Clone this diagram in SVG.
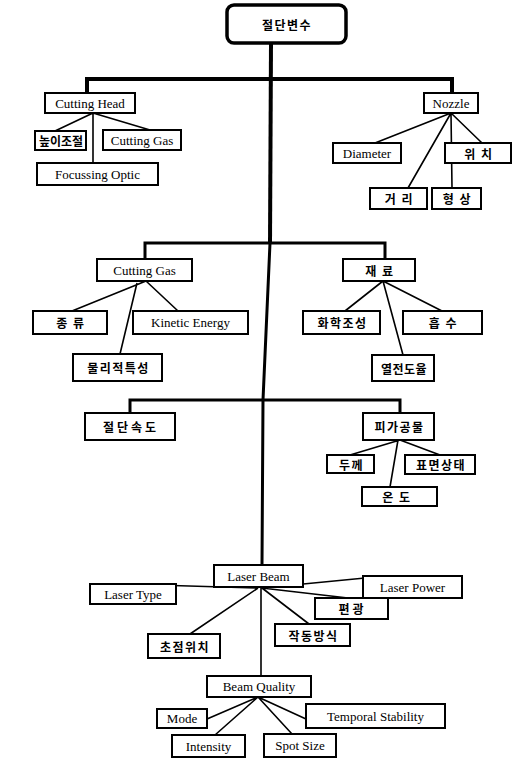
<svg xmlns="http://www.w3.org/2000/svg" width="514" height="763" viewBox="0 0 514 763">
<style>
.bx{fill:#fff;stroke:#000;stroke-width:2}
.e{font-family:"Liberation Serif",serif;font-size:13px;text-anchor:middle;dominant-baseline:central;fill:#000}
.k{font-family:"Noto Sans CJK KR",sans-serif;font-weight:bold;font-size:12px;text-anchor:middle;dominant-baseline:central;fill:#000;letter-spacing:1.5px}
.c{fill:none;stroke:#000;stroke-width:1.6}
.th{fill:none;stroke:#000;stroke-width:4}
.md{fill:none;stroke:#000;stroke-width:3}
</style>
<rect width="514" height="763" fill="#fff"/>
<g id="connectors">
<path class="th" d="M271,43 L270,243"/>
<path class="md" d="M270,243 L263,400 L262,565"/>
<path class="th" d="M87,95 L87,79 L452,79 L452,95"/>
<path class="md" d="M145,260 L145,243 L385,243 L385,260"/>
<path class="md" d="M130,414 L130,400 L400,400 L400,414"/>
<path class="c" d="M93,113 L55,131 M93,113 L150,130 M93,113 L93,163"/>
<path class="c" d="M451,113 L375,143 M451,113 L482,143 M451,113 L408,188 M451,113 L452,188"/>
<path class="c" d="M146,281 L72,311 M146,281 L178,311 M137,283 L120,354"/>
<path class="c" d="M383,281 L345,311 M383,281 L442,311 M383,281 L403,355"/>
<path class="c" d="M400,440 L350,455 M400,440 L440,455 M398,440 L390,487"/>
<path class="c" d="M258,588 L122,584 M258,588 L190,634 M262,588 L309,624 M262,588 L348,598 M262,588 L365,578 M261,588 L261,676"/>
<path class="c" d="M258,697 L207,719 M258,697 L215,735 M258,697 L292,734 M258,697 L306,719"/>
</g>
<g id="root"><rect x="227" y="5" width="119" height="38" rx="7" fill="#fff" stroke="#000" stroke-width="3.5"/><text class="k" x="287" y="24">절단변수</text></g>
<g id="cutting-head"><rect class="bx" x="45" y="93" width="90" height="20"/><text class="e" x="90" y="103">Cutting Head</text></g>
<g id="height"><rect class="bx" x="35" y="131" width="51" height="19"/><text class="k" x="61" y="140.5" style="letter-spacing:0">높이조절</text></g>
<g id="cutting-gas-1"><rect class="bx" x="103" y="130" width="78" height="20"/><text class="e" x="142" y="140">Cutting Gas</text></g>
<g id="focussing"><rect class="bx" x="37" y="163" width="121" height="22"/><text class="e" x="97.5" y="174">Focussing Optic</text></g>
<g id="nozzle"><rect class="bx" x="424" y="93" width="54" height="20"/><text class="e" x="451" y="103">Nozzle</text></g>
<g id="diameter"><rect class="bx" x="333" y="143" width="68" height="20"/><text class="e" x="367" y="153">Diameter</text></g>
<g id="position"><rect class="bx" x="445" y="143" width="66" height="20"/><text class="k" x="479" y="153">위 치</text></g>
<g id="distance"><rect class="bx" x="370" y="188" width="57" height="21"/><text class="k" x="399.5" y="198.5">거 리</text></g>
<g id="shape"><rect class="bx" x="432" y="188" width="49" height="21"/><text class="k" x="457.5" y="198.5">형 상</text></g>
<g id="cutting-gas-2"><rect class="bx" x="97" y="259" width="95" height="22"/><text class="e" x="144.5" y="270">Cutting Gas</text></g>
<g id="kind"><rect class="bx" x="33" y="311" width="74" height="23"/><text class="k" x="71" y="322.5">종 류</text></g>
<g id="kinetic"><rect class="bx" x="133" y="311" width="115" height="23"/><text class="e" x="190.5" y="322.5">Kinetic Energy</text></g>
<g id="physical"><rect class="bx" x="73" y="354" width="89" height="27"/><text class="k" x="118.5" y="367.5">물리적특성</text></g>
<g id="material"><rect class="bx" x="343" y="259" width="72" height="22"/><text class="k" x="380" y="270">재 료</text></g>
<g id="chemical"><rect class="bx" x="303" y="311" width="77" height="23"/><text class="k" x="342.5" y="322.5">화학조성</text></g>
<g id="absorb"><rect class="bx" x="403" y="311" width="79" height="23"/><text class="k" x="443.5" y="322.5">흡 수</text></g>
<g id="thermal"><rect class="bx" x="372" y="355" width="62" height="26"/><text class="k" x="404" y="368" style="letter-spacing:0.5px">열전도율</text></g>
<g id="speed"><rect class="bx" x="85" y="413" width="90" height="27"/><text class="k" x="131" y="426.5" style="letter-spacing:3px">절단속도</text></g>
<g id="workpiece"><rect class="bx" x="363" y="413" width="71" height="27"/><text class="k" x="399.5" y="426.5">피가공물</text></g>
<g id="thickness"><rect class="bx" x="327" y="455" width="47" height="18"/><text class="k" x="351.5" y="464">두께</text></g>
<g id="surface"><rect class="bx" x="405" y="455" width="70" height="19"/><text class="k" x="441" y="464.5">표면상태</text></g>
<g id="temperature"><rect class="bx" x="362" y="487" width="75" height="19"/><text class="k" x="397" y="496.5">온 도</text></g>
<g id="laser-beam"><rect class="bx" x="214" y="565" width="89" height="22"/><text class="e" x="258.5" y="576">Laser Beam</text></g>
<g id="laser-type"><rect class="bx" x="90" y="584" width="86" height="20"/><text class="e" x="133" y="594">Laser Type</text></g>
<g id="laser-power"><rect class="bx" x="363" y="576" width="99" height="22"/><text class="e" x="412.5" y="587">Laser Power</text></g>
<g id="polarization"><rect class="bx" x="315" y="598" width="73" height="21"/><text class="k" x="352.5" y="608.5" style="letter-spacing:3px">편광</text></g>
<g id="focus-position"><rect class="bx" x="148" y="634" width="72" height="24"/><text class="k" x="185" y="646">초점위치</text></g>
<g id="operation"><rect class="bx" x="275" y="624" width="75" height="22"/><text class="k" x="313.5" y="635">작동방식</text></g>
<g id="beam-quality"><rect class="bx" x="207" y="676" width="104" height="21"/><text class="e" x="259" y="686.5">Beam Quality</text></g>
<g id="mode"><rect class="bx" x="157" y="709" width="50" height="19"/><text class="e" x="182" y="718.5">Mode</text></g>
<g id="temporal"><rect class="bx" x="306" y="704" width="139" height="24"/><text class="e" x="375.5" y="716">Temporal Stability</text></g>
<g id="intensity"><rect class="bx" x="172" y="735" width="73" height="22"/><text class="e" x="208.5" y="746">Intensity</text></g>
<g id="spot-size"><rect class="bx" x="264" y="734" width="72" height="23"/><text class="e" x="300" y="745.5">Spot Size</text></g>
</svg>
